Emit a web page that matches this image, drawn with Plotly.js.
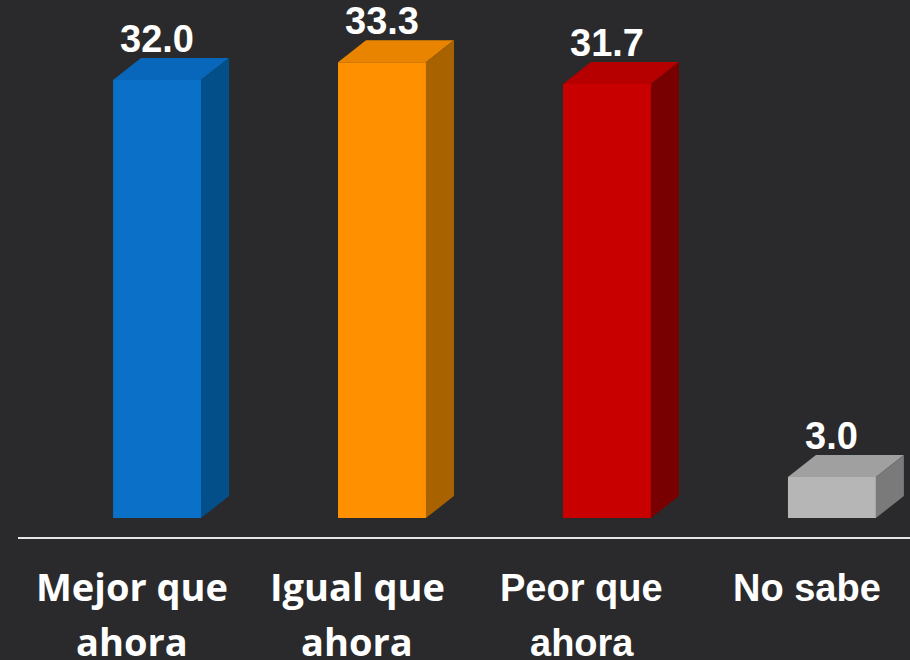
<!DOCTYPE html>
<html>
<head>
<meta charset="utf-8">
<script src="https://cdn.plot.ly/plotly-3.0.1.min.js"></script>
<style>
  html, body { margin: 0; padding: 0; background: #2a2a2c; }
  #chart { width: 910px; height: 660px; }
</style>
</head>
<body>
<div id="chart"></div>
<script>
// ---- data ----
const categories = ["Mejor que<br>ahora", "Igual que<br>ahora", "Peor que<br>ahora", "No sabe"];
const values = [32.0, 33.3, 31.7, 3.0];
const valueLabels = ["32.0", "33.3", "31.7", "3.0"];

// ---- style ----
const frontColors = ["#0a70c8", "#ff9000", "#c80000", "#b6b6b6"];
const topColors   = ["#0867ba", "#e98400", "#b60000", "#a0a0a0"];
const sideColors  = ["#024f8a", "#a86200", "#780000", "#7a7a7a"];
const labelFonts  = ["Open Sans", "Open Sans", "Liberation Sans", "Liberation Sans"];
const labelLift   = [7, 7, 0, 0];   // px, per-font vertical correction
const BAR_W = 0.391;     // bar width in category units
const DX = 0.1244;       // depth, x (category units)
const DY = 1.607;        // depth, y (value units)

const xs = values.map((_, i) => i);
const traces = [];

// front faces
traces.push({
  type: "bar", x: xs, y: values, width: BAR_W,
  marker: { color: frontColors, line: { width: 0 } },
  hoverinfo: "skip", showlegend: false
});

// top and side faces
values.forEach((v, i) => {
  const hw = BAR_W / 2;
  traces.push({
    type: "scatter", mode: "lines", fill: "toself",
    x: [i - hw, i + hw, i + hw + DX, i - hw + DX, i - hw],
    y: [v, v, v + DY, v + DY, v],
    fillcolor: topColors[i], line: { width: 0 },
    hoverinfo: "skip", showlegend: false
  });
  traces.push({
    type: "scatter", mode: "lines", fill: "toself",
    x: [i + hw, i + hw + DX, i + hw + DX, i + hw, i + hw],
    y: [0, DY, v + DY, v, 0],
    fillcolor: sideColors[i], line: { width: 0 },
    hoverinfo: "skip", showlegend: false
  });
});

const annotations = [];
// value labels
values.forEach((v, i) => {
  annotations.push({
    x: i, y: v + DY, xref: "x", yref: "y",
    text: valueLabels[i], showarrow: false,
    yanchor: "bottom", xanchor: "center", yshift: -4,
    font: { family: "Liberation Sans, Arial, sans-serif", size: 38, color: "#ffffff", weight: "bold" }
  });
});
// category labels
categories.forEach((c, i) => {
  c.split("<br>").forEach((line, j) => {
    annotations.push({
      x: i, y: 0, xref: "x", yref: "paper",
      text: "<b>" + line + "</b>", showarrow: false,
      xanchor: "center", yanchor: "top",
      xshift: -25, yshift: -28 - 55 * j + labelLift[i],
      font: { family: labelFonts[i], size: 38, color: "#ffffff" }
    });
  });
});

const layout = {
  width: 910, height: 660,
  margin: { l: 18, r: 0, t: 0, b: 123, pad: 0 },
  paper_bgcolor: "#2a2a2c", plot_bgcolor: "#2a2a2c",
  showlegend: false,
  xaxis: {
    range: [-0.618, 3.347], showgrid: false, zeroline: false,
    showticklabels: false, ticks: "", fixedrange: true,
    showline: true, linecolor: "#e6e6e6", linewidth: 2
  },
  yaxis: {
    range: [-1.388, 37.84], showgrid: false, zeroline: false,
    showticklabels: false, ticks: "", showline: false, fixedrange: true
  },
  annotations: annotations
};

Plotly.newPlot("chart", traces, layout, { displayModeBar: false, staticPlot: true });
</script>
</body>
</html>
